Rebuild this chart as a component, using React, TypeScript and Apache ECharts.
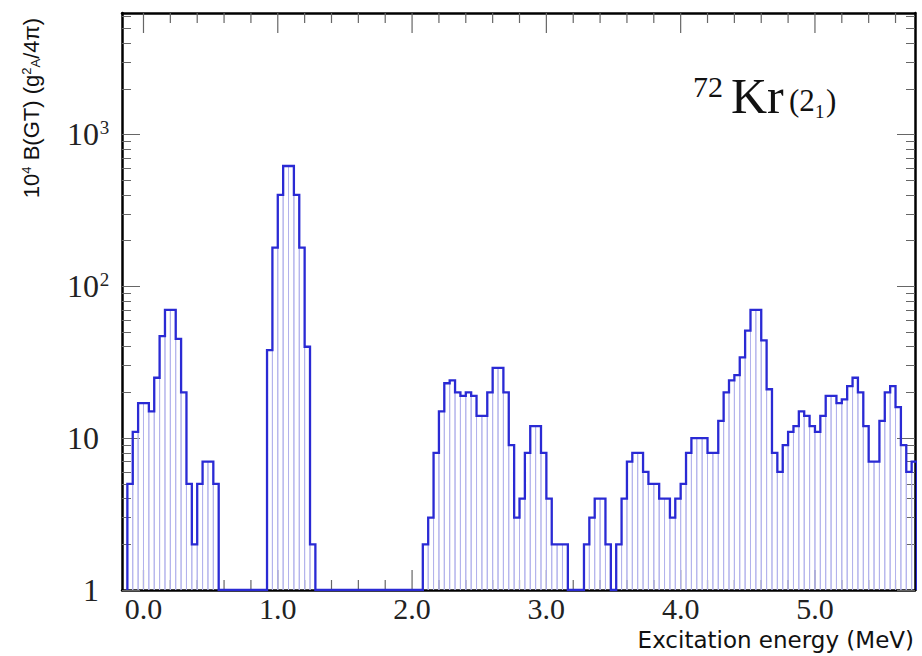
import React, { useEffect, useRef } from "react";
import * as echarts from "echarts";

// ---- data: 10^4 B(GT) per 0.04 MeV bin ----
const BIN_WIDTH = 0.04;
const seg1Start = -0.12;
const seg1 = [5, 11, 17, 17, 15, 25, 47, 70, 70, 45, 20, 5, 2, 5, 7, 7, 5];
const seg2Start = 0.92;
const seg2 = [38, 180, 400, 620, 620, 400, 180, 40, 2];
const seg3Start = 2.08;
const seg3 = [2, 3, 8, 15, 23, 24, 20, 19, 20, 19, 14, 14, 20, 29, 29, 20, 9, 3, 4, 8, 12, 12, 8, 4, 2, 2, 2];
const seg4Start = 3.28;
const seg4 = [
  2, 3, 4, 4, 2, 0, 2, 4, 7, 8,
  8, 6, 5, 5, 4, 4, 3, 4, 5, 8,
  10, 10, 10, 8, 8, 13, 20, 24, 26, 34,
  51, 70, 70, 44, 21, 8, 6, 9, 11, 12,
  15, 14, 12, 11, 14, 19, 19, 17, 18, 22,
  25, 20, 12, 7, 7, 13, 20, 22, 16, 9,
  6, 7,
];
const segments: [number, number[]][] = [
  [seg1Start, seg1],
  [seg2Start, seg2],
  [seg3Start, seg3],
  [seg4Start, seg4],
];

// ---- axes ----
const X_MIN = -0.16;
const X_MAX = 5.745;
const Y_MIN = 1;
const Y_MAX = 6310;
const xTickValues = [0, 1, 2, 3, 4, 5];
const xTickLabels = ["0.0", "1.0", "2.0", "3.0", "4.0", "5.0"];
const xMinorStep = 0.2;
const yTickValues = [1, 10, 100, 1000];
const yTickLabels: [string, string][] = [["1", ""], ["10", ""], ["10", "2"], ["10", "3"]];
const yMinorMultipliers = [2, 3, 4, 5, 6, 7, 8, 9];

const r4 = (v: number) => Math.round(v * 10000) / 10000;

export default function App() {
  const ref = useRef<HTMLDivElement>(null);
  useEffect(() => {
    document.body.style.margin = "0";
    if (!ref.current) return;
    const chart = echarts.init(ref.current, null, { renderer: "svg" });

    // bins: [left, right, value]
    const bins: [number, number, number][] = [];
    segments.forEach(([start, vals]) => {
      vals.forEach((v, i) => {
        bins.push([r4(start + i * BIN_WIDTH), r4(start + (i + 1) * BIN_WIDTH), v]);
      });
    });
    bins.sort((a, b) => a[0] - b[0]);
    const filled = bins.filter((b) => b[2] > 0);

    // step outline
    const outline: [number, number][] = [];
    outline.push([bins[0][0], Y_MIN]);
    bins.forEach((b, i) => {
      const v = Math.max(b[2], Y_MIN);
      if (i > 0 && Math.abs(bins[i - 1][1] - b[0]) > 1e-6) {
        outline.push([bins[i - 1][1], Y_MIN]);
        outline.push([b[0], Y_MIN]);
      }
      outline.push([b[0], v]);
      outline.push([b[1], v]);
    });
    outline.push([bins[bins.length - 1][1], Y_MIN]);

    const xMinor: number[] = [];
    for (let i = 1; i * xMinorStep < X_MAX; i++) {
      const v = r4(i * xMinorStep);
      if (Math.abs(v - Math.round(v)) > 1e-6) xMinor.push(v);
    }
    const yMinor: number[] = [];
    yTickValues.forEach((d) => yMinorMultipliers.forEach((m) => { if (d * m <= Y_MAX) yMinor.push(d * m); }));

    const serif = '"Liberation Serif", "Times New Roman", serif';
    const sans = '"Liberation Sans", Arial, sans-serif';
    const tickColor = "#666";

    const xBase = {
      type: "value",
      min: X_MIN,
      max: X_MAX,
      splitLine: { show: false },
      axisLine: { show: false, onZero: false },
      axisTick: { show: false },
      axisLabel: { show: false },
    };
    const yBase = {
      type: "log",
      logBase: 10,
      min: Y_MIN,
      max: Y_MAX,
      splitLine: { show: false },
      axisLine: { show: false, onZero: false },
      axisLabel: { show: false },
    };
    const frame = { show: true, onZero: false, lineStyle: { color: "#000", width: 2.5 } };

    const tickSeries = (values: number[], len: number) => ({
      type: "custom",
      xAxisIndex: 0,
      yAxisIndex: 0,
      clip: false,
      z: 2,
      encode: { x: 0, y: 1 },
      data: values.map((v) => [v, Y_MIN]),
      renderItem: (params: any, api: any) => {
        const x = api.value(0);
        const b = api.coord([x, Y_MIN]);
        const t = api.coord([x, Y_MAX]);
        const st = { stroke: tickColor, lineWidth: 1.2 };
        return {
          type: "group",
          children: [
            { type: "line", shape: { x1: b[0], y1: b[1], x2: b[0], y2: b[1] - len }, style: st },
            { type: "line", shape: { x1: t[0], y1: t[1], x2: t[0], y2: t[1] + len }, style: st },
          ],
        };
      },
    });

    chart.setOption({
      animation: false,
      backgroundColor: "#fff",
      grid: { left: 122, right: 7, top: 13, bottom: 66, containLabel: false, outerBoundsMode: "none" },
      xAxis: [
        {
          ...xBase,
          position: "bottom",
          axisLine: frame,
          axisLabel: {
            show: true,
            customValues: xTickValues,
            formatter: (v: number) => xTickLabels[xTickValues.indexOf(Math.round(v))] ?? "",
            fontFamily: serif,
            fontSize: 30,
            lineHeight: 24,
            color: "#222",
            margin: 6,
          },
        },
        { ...xBase, position: "top", axisLine: frame },
      ],
      yAxis: [
        {
          ...yBase,
          position: "left",
          axisLine: frame,
          axisTick: { show: true, inside: true, length: 18, customValues: yTickValues, lineStyle: { color: tickColor } },
          axisLabel: {
            show: true,
            customValues: yTickValues,
            formatter: (v: number) => {
              const idx = yTickValues.findIndex((t) => Math.abs(t - v) / t < 1e-6);
              if (idx < 0) return "";
              const [main, sup] = yTickLabels[idx];
              return `${main}{s|${sup || "\u00a0"}}`;
            },
            fontFamily: serif,
            fontSize: 32,
            color: "#222",
            margin: 13,
            rich: {
              s: { fontFamily: serif, fontSize: 19, color: "#222", width: 9, align: "left", verticalAlign: "top", lineHeight: 19, padding: [0, 0, 14, 1] },
            },
          },
        },
        { ...yBase, position: "left", axisTick: { show: true, inside: true, length: 9, customValues: yMinor, lineStyle: { color: tickColor } } },
        { ...yBase, position: "right", axisLine: frame, axisTick: { show: true, inside: true, length: 18, customValues: yTickValues, lineStyle: { color: tickColor } } },
        { ...yBase, position: "right", axisTick: { show: true, inside: true, length: 9, customValues: yMinor, lineStyle: { color: tickColor } } },
      ],
      series: [
        tickSeries(xTickValues, 20),
        tickSeries(xMinor, 10),
        {
          type: "custom",
          xAxisIndex: 0,
          yAxisIndex: 0,
          clip: true,
          z: 3,
          encode: { x: [0, 1], y: 2 },
          data: filled,
          renderItem: (params: any, api: any) => {
            const x0 = api.value(0);
            const x1 = api.value(1);
            const v = api.value(2);
            const pb0 = api.coord([x0, Y_MIN]);
            const pt0 = api.coord([x0, v]);
            const pb1 = api.coord([x1, Y_MIN]);
            const pt1 = api.coord([x1, v]);
            const st = { stroke: "#b3b3ec", lineWidth: 1 };
            return {
              type: "group",
              children: [
                { type: "line", shape: { x1: pb0[0], y1: pb0[1], x2: pt0[0], y2: pt0[1] }, style: st },
                { type: "line", shape: { x1: pb1[0], y1: pb1[1], x2: pt1[0], y2: pt1[1] }, style: st },
              ],
            };
          },
        },
        {
          type: "line",
          xAxisIndex: 0,
          yAxisIndex: 0,
          data: outline,
          showSymbol: false,
          symbol: "none",
          clip: true,
          z: 4,
          lineStyle: { color: "#2a2ad4", width: 2.3, join: "miter" },
        },
      ],
      graphic: [
        {
          type: "text",
          x: 31,
          y: 18,
          rotation: Math.PI / 2,
          style: {
            text: "10{sup|4} B(GT) (g{sup|2}{sub|A}/4π)",
            fontFamily: sans,
            fontSize: 22,
            fill: "#111",
            textAlign: "right",
            textVerticalAlign: "middle",
            rich: {
              sup: { fontSize: 13, verticalAlign: "top", lineHeight: 13, padding: [0, 0, 10, 0], fontFamily: sans, fill: "#111" },
              sub: { fontSize: 13, verticalAlign: "bottom", lineHeight: 13, fontFamily: sans, fill: "#111" },
            },
          },
        },
        {
          type: "text",
          x: 914,
          y: 640,
          style: {
            text: "Excitation energy (MeV)",
            fontFamily: '"DejaVu Sans", sans-serif',
            fontSize: 23,
            lineHeight: 22,
            fill: "#111",
            textAlign: "right",
            textVerticalAlign: "middle",
          },
        },
        { type: "text", x: 693, y: 86, style: { text: "72", fontFamily: serif, fontSize: 30, fill: "#111", textAlign: "left", textVerticalAlign: "middle" } },
        { type: "text", x: 731, y: 96, style: { text: "Kr", fontFamily: serif, fontSize: 50, fill: "#111", textAlign: "left", textVerticalAlign: "middle" } },
        { type: "text", x: 789, y: 100, style: { text: "(2", fontFamily: serif, fontSize: 31, fill: "#111", textAlign: "left", textVerticalAlign: "middle" } },
        { type: "text", x: 815, y: 111, style: { text: "1", fontFamily: serif, fontSize: 19, fill: "#111", textAlign: "left", textVerticalAlign: "middle" } },
        { type: "text", x: 826, y: 100, style: { text: ")", fontFamily: serif, fontSize: 31, fill: "#111", textAlign: "left", textVerticalAlign: "middle" } },
      ],
    });
    return () => chart.dispose();
  }, []);
  return <div ref={ref} style={{ width: 922, height: 656 }} />;
}
